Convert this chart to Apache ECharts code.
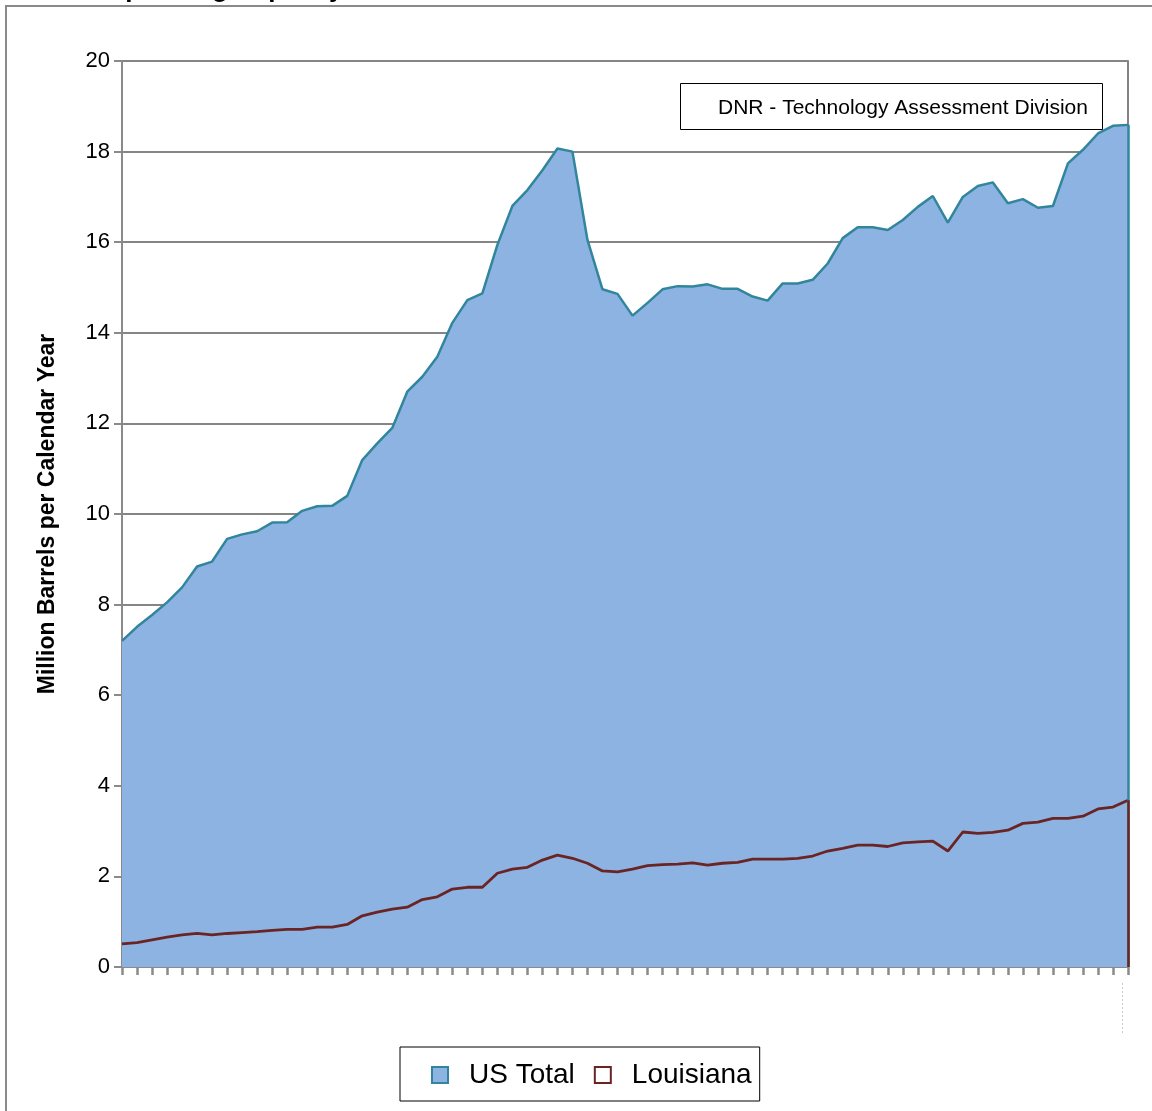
<!DOCTYPE html>
<html>
<head>
<meta charset="utf-8">
<script src="https://cdn.jsdelivr.net/npm/echarts@6/dist/echarts.min.js"></script>
<style>
html,body{margin:0;padding:0;background:#fff;}
#chart{width:1152px;height:1111px;}
</style>
</head>
<body>
<div id="chart"></div>
<script>
var years = [];
for (var y = 1952; y <= 2019; y++) years.push(String(y));

var usTotal = [7.20,7.51,7.77,8.05,8.38,8.84,8.95,9.45,9.55,9.62,
  9.81,9.82,10.07,10.17,10.18,10.40,11.19,11.56,11.90,12.70,
  13.03,13.47,14.22,14.72,14.87,15.94,16.80,17.15,17.59,18.07,
  18.00,16.05,14.96,14.86,14.38,14.66,14.96,15.03,15.02,15.07,
  14.97,14.97,14.80,14.71,15.09,15.09,15.17,15.53,16.09,16.33,
  16.33,16.27,16.49,16.78,17.02,16.43,17.00,17.24,17.32,16.86,
  16.95,16.76,16.80,17.74,18.04,18.40,18.57,18.59];

var louisiana = [0.51,0.54,0.60,0.66,0.71,0.74,0.71,0.74,0.76,0.78,
  0.81,0.83,0.83,0.88,0.88,0.94,1.13,1.21,1.28,1.32,
  1.49,1.55,1.72,1.76,1.76,2.07,2.16,2.20,2.36,2.47,
  2.40,2.29,2.12,2.10,2.16,2.24,2.26,2.27,2.30,2.25,
  2.29,2.31,2.38,2.38,2.38,2.40,2.45,2.56,2.62,2.69,
  2.69,2.66,2.74,2.76,2.78,2.56,2.98,2.95,2.97,3.02,
  3.17,3.20,3.28,3.28,3.33,3.49,3.53,3.68];

var yTicks = [0,2,4,6,8,10,12,14,16,18,20];
var seriesNames = ['US Total','Louisiana'];
var yAxisTitle = 'Million Barrels per Calendar Year';
var sourceNote = 'DNR - Technology Assessment Division';
var chartTitle = 'Operating Capacity';

var FONT = 'Liberation Sans';
var lastIdx = years.length - 1;

var chart = echarts.init(document.getElementById('chart'), null, {renderer:'canvas'});
chart.setOption({
  animation:false,
  backgroundColor:'#fff',
  grid:{left:122,right:24,top:61,bottom:144,show:true,borderColor:'#5a5a5a',borderWidth:1.5,backgroundColor:'transparent'},
  xAxis:{
    type:'category',data:years,boundaryGap:false,
    axisLine:{show:true,lineStyle:{color:'#8a8a8a',width:2}},
    axisTick:{show:true,interval:0,length:8,lineStyle:{color:'#8a8a8a',width:2.5}},
    axisLabel:{show:false},
    splitLine:{show:false}
  },
  yAxis:{
    type:'value',min:yTicks[0],max:yTicks[yTicks.length-1],interval:2,
    name:yAxisTitle,nameLocation:'middle',nameGap:63,
    nameTextStyle:{fontFamily:FONT,fontWeight:'bold',fontSize:23,color:'#000'},
    axisLine:{show:true,lineStyle:{color:'#8a8a8a',width:2}},
    axisTick:{show:true,length:8,lineStyle:{color:'#8a8a8a',width:2}},
    axisLabel:{fontFamily:FONT,fontSize:22,color:'#000',margin:12},
    splitLine:{show:true,lineStyle:{color:'#858585',width:2}}
  },
  legend:{
    left:400,top:1047,orient:'horizontal',
    icon:'rect',itemWidth:16,itemHeight:16,itemGap:19,
    padding:[14,8,12,31],
    borderColor:'#000',borderWidth:1,
    textStyle:{fontFamily:FONT,fontSize:28,color:'#000',padding:[0,0,0,16]},
    data:[
      {name:seriesNames[0],itemStyle:{color:'#8db3e2',borderColor:'#31859c',borderWidth:2}},
      {name:seriesNames[1],itemStyle:{color:'#ffffff',borderColor:'#6b2424',borderWidth:2}}
    ]
  },
  series:[
    {
      name:seriesNames[0],type:'line',data:usTotal,symbol:'none',
      lineStyle:{color:'#31859c',width:2.5},
      itemStyle:{color:'#8db3e2'},
      areaStyle:{color:'#8db3e2',opacity:1},
      markLine:{silent:true,symbol:'none',label:{show:false},
        lineStyle:{color:'#31859c',width:2.5,type:'solid'},
        data:[[{coord:[lastIdx,0]},{coord:[lastIdx,usTotal[lastIdx]]}]]}
    },
    {
      name:seriesNames[1],type:'line',data:louisiana,symbol:'none',
      lineStyle:{color:'#6b2424',width:2.8},
      itemStyle:{color:'#6b2424'},
      markLine:{silent:true,symbol:'none',label:{show:false},
        lineStyle:{color:'#6b2424',width:2.5,type:'solid'},
        data:[[{coord:[lastIdx,0]},{coord:[lastIdx,louisiana[lastIdx]]}]]}
    }
  ],
  graphic:[
    {type:'rect',shape:{x:6,y:6,width:1300,height:1300},style:{fill:'none',stroke:'#8a8a8a',lineWidth:2},z:-1},
    {type:'text',x:105,y:3,style:{text:chartTitle,fontFamily:FONT,fontWeight:'bold',fontSize:26,fill:'#000',verticalAlign:'bottom'}},
    {type:'rect',shape:{x:680.5,y:83.5,width:422,height:46},style:{fill:'#fff',stroke:'#000',lineWidth:1},z:10},
    {type:'text',x:903,y:108,style:{text:sourceNote,fontFamily:FONT,fontSize:21,fill:'#000',align:'center',verticalAlign:'middle'},z:11},
    {type:'line',shape:{x1:1122.5,y1:983,x2:1122.5,y2:1035},style:{stroke:'#c8c8c8',lineWidth:1,lineDash:[2,2]}}
  ]
});
</script>
</body>
</html>
